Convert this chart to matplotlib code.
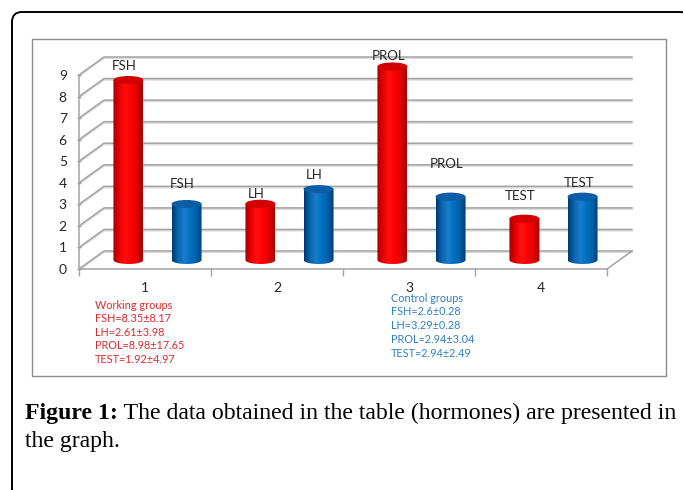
import matplotlib
matplotlib.use("Agg")
import matplotlib.pyplot as plt
import numpy as np
from matplotlib.patches import Rectangle, Ellipse, FancyBboxPatch, Polygon
from matplotlib.colors import LinearSegmentedColormap
from matplotlib.transforms import Affine2D, offset_copy

# ---------------- data ----------------
categories = ["1", "2", "3", "4"]
hormones = ["FSH", "LH", "PROL", "TEST"]
working_values = [8.35, 2.61, 8.98, 1.92]
control_values = [2.6, 3.29, 2.94, 2.94]
y_ticks = [0, 1, 2, 3, 4, 5, 6, 7, 8, 9]
working_text = ["Working groups", "FSH=8.35\u00b18.17", "LH=2.61\u00b13.98",
                "PROL=8.98\u00b117.65", "TEST=1.92\u00b14.97"]
control_text = ["Control groups", "FSH=2.6\u00b10.28", "LH=3.29\u00b10.28",
                "PROL=2.94\u00b13.04", "TEST=2.94\u00b12.49"]
# label lift above each cylinder top (value units), as placed in the source
working_label_lift = [0.65, 0.46, 0.5, 1.07]
control_label_lift = [0.93, 0.65, 1.53, 0.65]

# ---------------- layout ----------------
W, H, DPI = 683, 490, 100
fig = plt.figure(figsize=(W / DPI, H / DPI), dpi=DPI)
fig.patch.set_facecolor("white")
px = Affine2D().scale(1, -1).translate(0, H)   # image-pixel coords -> display

FONT = ["Lato", "DejaVu Sans"]

# outer rounded frame and inner chart box
fig.add_artist(FancyBboxPatch((12, 12), 678, 520,
                              boxstyle="round,pad=0,rounding_size=10",
                              transform=px, fill=False, ec="black", lw=1.4))
fig.add_artist(Rectangle((32, 39), 634, 337, transform=px, fill=False,
                         ec="#8c8c8c", lw=1.0))

X0, X1, Y0, Y9 = 79, 607, 269, 75
ax = fig.add_axes([X0 / W, 1 - Y0 / H, (X1 - X0) / W, (Y0 - Y9) / H])
ncat = len(categories)
ax.set_xlim(0, ncat)
ax.set_ylim(0, 9)
ax.patch.set_visible(False)

sx = ncat / (X1 - X0)        # data per pixel
sy = 9 / (Y0 - Y9)
DX, DY = 25 * sx, 18 * sy    # depth of the 3-D box

grid_c = "#a3a3a3"
shadow = offset_copy(ax.transData, fig=fig, x=0, y=-1.3, units="dots")
for v in y_ticks:
    xs = [0, DX, ncat + DX]
    ys = [v, v + DY, v + DY]
    ax.plot(xs, ys, color="#dcdcdc", lw=1.2, clip_on=False, zorder=0.5,
            transform=shadow)
    ax.plot(xs, ys, color=grid_c, lw=1.1, clip_on=False, zorder=1)
ax.plot([ncat, ncat + DX], [0, DY], color=grid_c, lw=1.1, clip_on=False, zorder=1)

for s in ["top", "right"]:
    ax.spines[s].set_visible(False)
for s in ["left", "bottom"]:
    ax.spines[s].set_color(grid_c)
    ax.spines[s].set_linewidth(1.1)

ax.set_yticks(y_ticks)
ax.set_yticklabels([str(v) for v in y_ticks], fontsize=10, color="#262626",
                   family=FONT)
ax.tick_params(axis="y", direction="inout", length=3.5, width=1, color=grid_c,
               pad=7)
ax.set_xticks(np.arange(ncat + 1))
ax.set_xticklabels([])
ax.set_xticks(np.arange(ncat) + 0.5, minor=True)
ax.set_xticklabels(categories, minor=True, fontsize=10, color="#262626",
                   family=FONT)
ax.tick_params(axis="x", which="major", direction="out", length=5, width=1,
               color=grid_c)
ax.tick_params(axis="x", which="minor", length=0, pad=9)

# ---------------- cylinders ----------------
bw = 30 * sx
eh = 8 * sy
gap = 0.22
red_cmap = LinearSegmentedColormap.from_list(
    "r", ["#9c0000", "#e80000", "#ff1010", "#ff0000", "#e00000", "#a80000"])
blue_cmap = LinearSegmentedColormap.from_list(
    "b", ["#00396e", "#0a66b0", "#1a7ccc", "#0070c0", "#005ea6", "#003a72"])
grad = np.linspace(0, 1, 256)[None, :]


def cylinder(xc, value, cmap, top_color):
    base = DY / 2
    top = base + value
    t = np.linspace(np.pi, 2 * np.pi, 40)
    bx = xc + bw / 2 * np.cos(t)
    by = base + eh / 2 * np.sin(t)
    pts = np.column_stack([np.r_[bx, xc + bw / 2, xc - bw / 2],
                           np.r_[by, top, top]])
    poly = Polygon(pts, closed=True, transform=ax.transData)
    im = ax.imshow(grad, extent=[xc - bw / 2, xc + bw / 2, base - eh / 2, top],
                   aspect="auto", cmap=cmap, interpolation="bilinear", zorder=3)
    im.set_clip_path(poly)
    im.set_clip_box(fig.bbox)
    ax.add_patch(Ellipse((xc, top), bw, eh, fc=top_color, ec="none",
                         zorder=4, clip_on=False))
    return top


for i in range(ncat):
    xc_mid = i + 0.5 + DX / 2
    t1 = cylinder(xc_mid - gap, working_values[i], red_cmap, "#d20000")
    ax.text(xc_mid - gap - 0.03, t1 + working_label_lift[i], hormones[i],
            ha="center", va="center", fontsize=9.5, color="#262626",
            family=FONT, zorder=5)
    t2 = cylinder(xc_mid + gap, control_values[i], blue_cmap, "#0b5da6")
    ax.text(xc_mid + gap - 0.03, t2 + control_label_lift[i], hormones[i],
            ha="center", va="center", fontsize=9.5, color="#262626",
            family=FONT, zorder=5)

ax.set_xlim(0, ncat)
ax.set_ylim(0, 9)

# ---------------- summary text blocks ----------------
for k, line in enumerate(working_text):
    fig.text(95, 305 + 13.6 * k, line, transform=px, ha="left", va="center",
             fontsize=7.8, color="#e0282c", family=FONT)
for k, line in enumerate(control_text):
    fig.text(391, 298 + 13.8 * k, line, transform=px, ha="left", va="center",
             fontsize=7.8, color="#2f7fc4", family=FONT)

# ---------------- caption ----------------
SERIF = ["Liberation Serif", "DejaVu Serif"]
cap_size = 15.5
b = fig.text(25, 419, "Figure 1:", transform=px, ha="left", va="baseline",
             fontsize=cap_size, fontweight="bold", family=SERIF)
r = fig.canvas.get_renderer()
bb = b.get_window_extent(r)
rest = fig.text(bb.x1, 419, " The data obtained in the table (hormones) are presented in",
                transform=px, ha="left", va="baseline", fontsize=cap_size,
                family=SERIF)
bb2 = rest.get_window_extent(r)
scale = (675 - 25) / (bb2.x1 - bb.x0)
b.set_fontsize(cap_size * scale)
bb = b.get_window_extent(r)
rest.set_fontsize(cap_size * scale)
rest.set_x(bb.x1)
fig.text(25, 447, "the graph.", transform=px, ha="left", va="baseline",
         fontsize=cap_size * scale, family=SERIF)

fig.savefig("out.png", dpi=DPI, facecolor="white")
